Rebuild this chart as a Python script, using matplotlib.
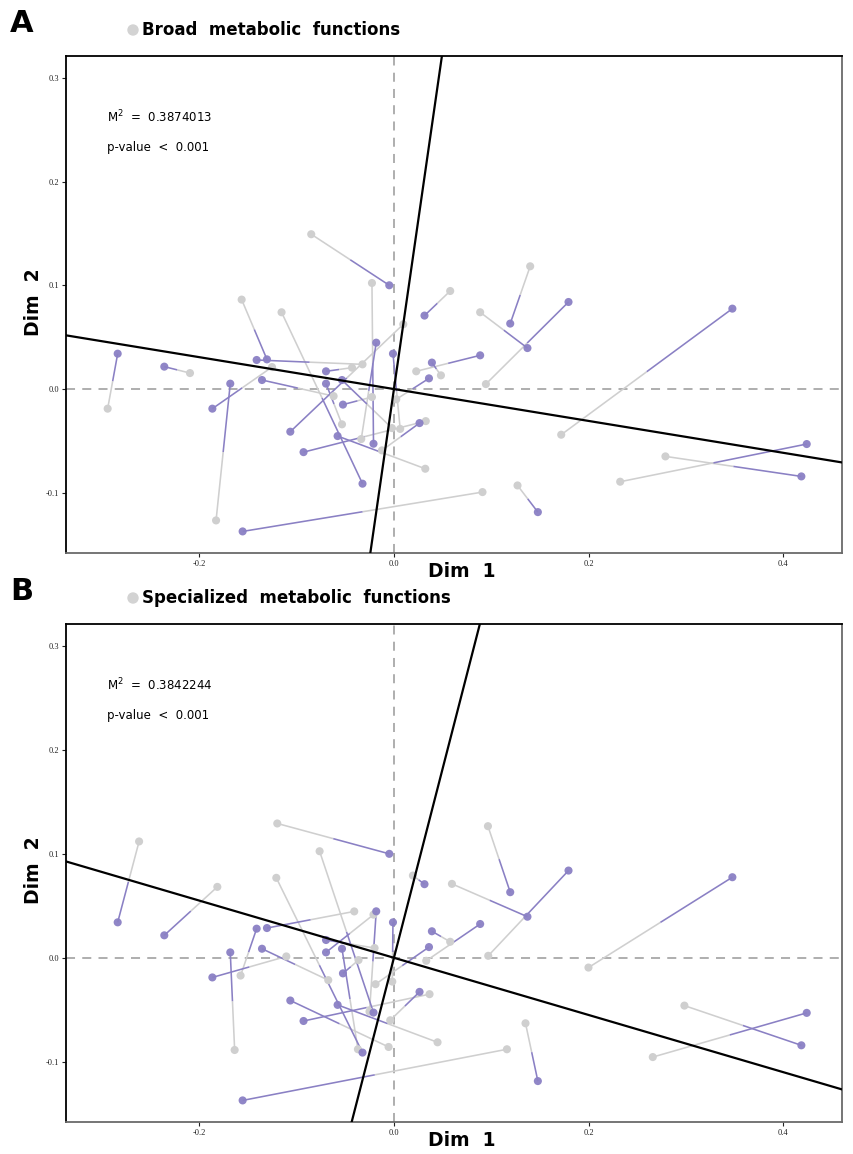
import matplotlib
matplotlib.use("Agg")
import matplotlib.pyplot as plt
import numpy as np

# target configuration (purple), shared by both panels
target_x = [-0.0048, 0.0314, -0.0182, -0.0010, -0.2839, -0.1411, -0.1305, 0.0390,
            -0.2360, -0.0698, 0.0360, -0.1356, -0.0534, -0.1682, -0.0698, -0.1866,
            -0.0524, 0.0263, -0.1065, -0.0210, -0.0579, -0.0929, -0.0323, -0.1555,
            0.1195, 0.1794, 0.3478, 0.1372, 0.0886, 0.4242, 0.4187, 0.1479]
target_y = [0.1000, 0.0708, 0.0447, 0.0341, 0.0341, 0.0280, 0.0286, 0.0255,
            0.0216, 0.0171, 0.0103, 0.0087, 0.0087, 0.0052, 0.0052, -0.0189,
            -0.0150, -0.0328, -0.0411, -0.0527, -0.0453, -0.0608, -0.0912, -0.1372,
            0.0631, 0.0839, 0.0775, 0.0395, 0.0325, -0.0530, -0.0842, -0.1186]

# rotated configuration (grey), broad metabolic functions
broad_x = [-0.0850, 0.0578, -0.0336, 0.0064, -0.2942, -0.0323, -0.1565, 0.0483,
           -0.2096, -0.0431, 0.0024, -0.0620, -0.0021, -0.1828, -0.0534, -0.1253,
           -0.0226, -0.0123, 0.0096, -0.0226, 0.0322, 0.0327, -0.1155, 0.0910,
           0.1400, 0.0945, 0.1719, 0.0886, 0.0229, 0.2325, 0.2790, 0.1270]
broad_y = [0.1492, 0.0945, -0.0482, -0.0384, -0.0189, 0.0238, 0.0862, 0.0132,
           0.0154, 0.0206, -0.0099, -0.0068, -0.0376, -0.1266, -0.0340, 0.0212,
           -0.0077, -0.0591, 0.0624, 0.1022, -0.0768, -0.0309, 0.0740, -0.0993,
           0.1183, 0.0048, -0.0440, 0.0740, 0.0171, -0.0893, -0.0649, -0.0929]

# rotated configuration (grey), specialized metabolic functions
spec_x = [-0.1199, 0.0195, -0.0251, -0.0017, -0.2619, -0.1576, -0.0408, 0.0578,
          -0.1815, -0.0199, -0.0189, -0.0675, -0.0370, -0.1637, -0.0210, -0.1106,
          -0.0364, -0.0038, -0.0055, -0.0764, 0.0448, 0.0366, -0.1209, 0.1161,
          0.0966, 0.0969, 0.1999, 0.0596, 0.0332, 0.2660, 0.2985, 0.1352]
spec_y = [0.1292, 0.0791, -0.0518, -0.0229, 0.1119, -0.0171, 0.0446, 0.0154,
          0.0682, 0.0094, -0.0254, -0.0215, -0.0880, -0.0887, 0.0415, 0.0013,
          -0.0022, -0.0601, -0.0858, 0.1025, -0.0813, -0.0350, 0.0769, -0.0880,
          0.1266, 0.0019, -0.0094, 0.0711, -0.0029, -0.0955, -0.0460, -0.0630]

titles = ["Broad  metabolic  functions", "Specialized  metabolic  functions"]
tags = ["A", "B"]
m2_values = ["0.3874013", "0.3842244"]
p_text = "p-value  <  0.001"
rot_slopes = [-0.1536, -0.275]

grey = "#cfcfcf"
purple = "#8a80c4"

fig = plt.figure(figsize=(8.54, 11.54), dpi=100)
axes_rects = [[0.0773, 0.5208, 0.9087, 0.4307], [0.0773, 0.0277, 0.9087, 0.4315]]
rot_sets = [(broad_x, broad_y), (spec_x, spec_y)]

for i in range(2):
    ax = fig.add_axes(axes_rects[i])
    tx = np.array(target_x)
    ty = np.array(target_y)
    rx = np.array(rot_sets[i][0])
    ry = np.array(rot_sets[i][1])
    mx = (tx + rx) / 2
    my = (ty + ry) / 2

    ax.axhline(0, color="#a8a8a8", lw=1.3, ls=(0, (5, 4)), zorder=1)
    ax.axvline(0, color="#a8a8a8", lw=1.3, ls=(0, (5, 4)), zorder=1)

    # grey half from rotated point to midpoint, purple half on to the target
    for k in range(len(tx)):
        ax.plot([rx[k], mx[k]], [ry[k], my[k]], color=grey, lw=1.15, zorder=2,
                solid_capstyle="butt")
    for k in range(len(tx)):
        ax.plot([mx[k], tx[k]], [my[k], ty[k]], color=purple, lw=1.15, zorder=3,
                solid_capstyle="butt")

    ax.scatter(rx, ry, s=34, color=grey, edgecolors="none", zorder=4)
    ax.scatter(tx, ty, s=34, color=purple, edgecolors="none", alpha=0.95, zorder=5)

    s = rot_slopes[i]
    ax.axline((0, 0), slope=s, color="black", lw=1.6, zorder=6)
    ax.axline((0, 0), slope=-1 / s, color="black", lw=1.6, zorder=6)

    ax.set_xlim(-0.337, 0.4605)
    ax.set_ylim(-0.158, 0.321)
    ax.set_xticks([-0.2, 0.0, 0.2, 0.4])
    ax.set_xticklabels(["-0.2", "0.0", "0.2", "0.4"])
    ax.set_yticks([-0.1, 0.0, 0.1, 0.2, 0.3])
    ax.set_yticklabels(["-0.1", "0.0", "0.1", "0.2", "0.3"])
    ax.tick_params(labelsize=6, length=3, width=0.8, colors="#222222", pad=2)
    for lab in ax.get_xticklabels() + ax.get_yticklabels():
        lab.set_family("Liberation Serif")

    ax.spines["left"].set_color("black")
    ax.spines["top"].set_color("black")
    ax.spines["right"].set_color("#6a6a6a")
    ax.spines["bottom"].set_color("#6a6a6a")
    for sp in ax.spines.values():
        sp.set_linewidth(1.3)

    ax.text(0.51, -0.038, "Dim  1", transform=ax.transAxes, ha="center", va="center",
            fontsize=13.5, fontweight="bold", family="DejaVu Sans")
    ax.text(-0.042, 0.505, "Dim  2", transform=ax.transAxes, ha="center", va="center",
            rotation=90, fontsize=13.5, fontweight="bold", family="DejaVu Sans")

    ax.text(-0.295, 0.262, "M$^2$  =  " + m2_values[i], fontsize=8.5, va="center",
            family="DejaVu Sans")
    ax.text(-0.295, 0.233, p_text, fontsize=8.5, va="center", family="DejaVu Sans")

    # panel tag and title with grey dot
    top_px = 56 if i == 0 else 624
    fig.text(10 / 854, 1 - (top_px - 32) / 1154, tags[i], fontsize=22, fontweight="bold",
             ha="left", va="center")
    fig.text(142 / 854, 1 - (top_px - 26) / 1154, titles[i], fontsize=12, fontweight="bold",
             ha="left", va="center")
    fig.patches.append(matplotlib.patches.Ellipse((133 / 854, 1 - (top_px - 26) / 1154),
                                                  10 / 854, 10 / 1154, color="#d3d3d3",
                                                  transform=fig.transFigure, figure=fig))

fig.savefig("out.png", dpi=100)
